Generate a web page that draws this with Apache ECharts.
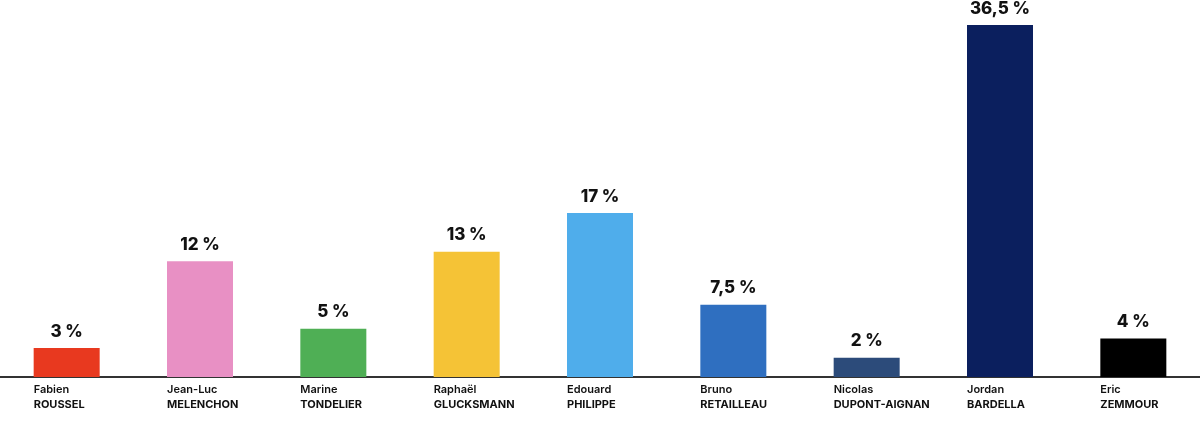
<!DOCTYPE html>
<html>
<head>
<meta charset="utf-8">
<script src="https://cdn.jsdelivr.net/npm/echarts@6/dist/echarts.min.js"></script>
<style>
  html, body { margin: 0; padding: 0; background: #fff; }
  #chart { width: 1200px; height: 422px; }
</style>
</head>
<body>
<div id="chart"></div>
<script>
var firstNames = ['Fabien', 'Jean-Luc', 'Marine', 'Raphaël', 'Edouard', 'Bruno', 'Nicolas', 'Jordan', 'Eric'];
var lastNames = ['ROUSSEL', 'MELENCHON', 'TONDELIER', 'GLUCKSMANN', 'PHILIPPE', 'RETAILLEAU', 'DUPONT-AIGNAN', 'BARDELLA', 'ZEMMOUR'];
var scores = [3, 12, 5, 13, 17, 7.5, 2, 36.5, 4];
var colors = ['#E8391F', '#E890C4', '#4FAF55', '#F5C336', '#4FADEB', '#2F6FC0', '#2C4B7A', '#0B1F5E', '#000000'];

var chart = echarts.init(document.getElementById('chart'));

var categories = firstNames.map(function(f, i) { return f + '|' + lastNames[i]; });

var option = {
	animation : false,
	grid : {
		left : 0,
		right : 0,
		top : 25,
		bottom : 45
	},
	xAxis : {
		type : 'category',
		data : categories,
		axisLine : { lineStyle : { color : '#333', width : 2 } },
		axisTick : { show : false },
		axisLabel : {
			margin : 5,
			interval : 0,
			formatter : function(v) {
				var p = v.split('|');
				return '{a|' + p[0] + '}\n{b|' + p[1] + '}';
			},
			rich : {
				a : { width : 66, align : 'left', fontFamily : 'Inter', fontSize : 11, fontWeight : 600, color : '#111', lineHeight : 15 },
				b : { width : 66, align : 'left', fontFamily : 'Inter', fontSize : 11, fontWeight : 700, color : '#111', lineHeight : 15 }
			}
		}
	},
	yAxis : {
		type : 'value',
		min : 0,
		max : 36.5,
		show : false,
		splitLine : { show : false }
	},
	series : [ {
		type : 'bar',
		barWidth : 66,
		data : scores.map(function(v, i) {
			return { value : v, itemStyle : { color : colors[i] } };
		}),
		label : {
			show : true,
			position : 'top',
			distance : 8,
			fontFamily : 'Inter',
			fontWeight : 800,
			fontSize : 17,
			color : '#111',
			formatter : function(p) {
				return String(p.value).replace('.', ',') + ' %';
			}
		}
	} ]
};
chart.setOption(option);

window.onresize = function() {
	chart.resize();
}
</script>
</body>
</html>
